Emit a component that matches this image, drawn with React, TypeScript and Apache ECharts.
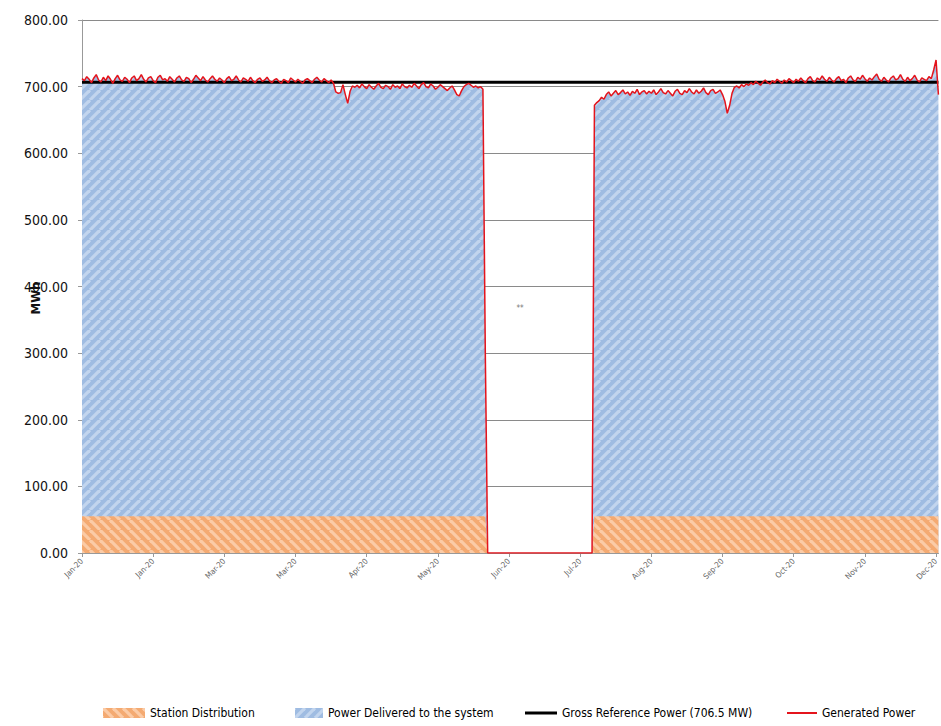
import React, { useEffect, useRef } from 'react';
import * as echarts from 'echarts';

// ---- data ----
const X_TICK_LABELS = ['Jan-20', 'Jan-20', 'Mar-20', 'Mar-20', 'Apr-20', 'May-20', 'Jun-20', 'Jul-20', 'Aug-20', 'Sep-20', 'Oct-20', 'Nov-20', 'Dec-20'];
const X_TICK_STEP_DAYS = 30;
const LAST_DAY = 361;
const Y_MAX = 800;
const Y_STEP = 100;
const GROSS_REFERENCE_MW = 706.5;
const STATION_LOAD = 55;

// Generated power, daily values, days 0..170 (Jan 1 .. Jun 19)
const GEN_JAN_JUN = [
  712, 709, 715, 711, 706, 713, 718, 710, 707, 714, 709, 716, 711, 705, 712, 717, 710, 708, 714, 711,
  706, 713, 716, 709, 712, 718, 711, 707, 713, 715, 709, 706, 714, 717, 710, 712, 708, 715, 711, 707,
  713, 716, 710, 708, 714, 712, 706, 711, 717, 713, 709, 715, 710, 707, 712, 716, 711, 708, 713, 710,
  706, 712, 715, 709, 711, 716, 710, 707, 713, 711, 708, 714, 709, 706, 711, 713, 708, 710, 714, 709,
  706, 710, 712, 708, 705, 711, 709, 706, 713, 710, 707, 711, 708, 705, 710, 712, 709, 706, 711, 714,
  710, 707, 712, 709, 706, 710, 705,
  692, 690, 691, 703, 688, 675, 693, 701,
  699, 702, 698, 704, 700, 697, 703, 699, 696, 701, 705, 699, 697, 702, 700, 696, 703, 699, 701, 697,
  704, 700, 698, 702, 699,
  705, 701, 697, 703, 706, 700, 698, 704, 701, 696, 699, 703, 700, 697, 694, 698, 701, 695, 688, 686,
  694, 700, 703, 705, 702, 699, 701, 698, 700, 696,
  300,
];
// Outage: [day, MW]
const OUTAGE = [[171, 0], [215, 0]];
// Generated power, daily values, days 216..361
const FIRST_DAY_H2 = 216;
const GEN_JUL_DEC = [
  672,
  676, 679, 684, 681, 688, 692, 686, 690, 694, 688, 691, 695, 689, 692, 687, 693, 690, 696, 688, 692,
  694, 689, 693,
  690, 695, 688, 692, 697, 691, 689, 694, 690, 686, 693, 696, 690, 688, 694, 691, 697, 692, 689, 695,
  690, 693, 698, 691, 688, 694, 696, 690, 692, 695,
  688, 678, 660, 672, 690, 699, 701, 698, 703, 700,
  704, 702, 706, 703, 708, 705, 702, 707, 710, 706, 704, 709, 706, 711, 708, 705, 710, 707, 712, 709,
  706, 711, 708, 713, 709, 706, 712, 715, 709, 707, 713, 710, 716, 711, 708, 714, 710, 707, 712, 715,
  709, 711, 706, 713, 716, 710, 708, 714, 711, 717, 712, 708, 713, 710, 715, 719, 711, 708, 714, 710,
  707, 713, 716, 710, 712, 718, 711, 708, 714, 709, 712, 717, 710, 707, 713, 711, 709, 715, 712, 725,
  740, 688,
];

const FONT = "'Liberation Sans Narrow', 'DejaVu Sans Condensed', 'Arial Narrow', 'Liberation Sans', sans-serif";

function hatch(base: string, stripe: string, dir: number, size = 10, lw = 3.2) {
  const c = document.createElement('canvas');
  c.width = size;
  c.height = size;
  const g = c.getContext('2d')!;
  g.fillStyle = base;
  g.fillRect(0, 0, size, size);
  g.strokeStyle = stripe;
  g.lineWidth = lw;
  for (const o of [-size, 0, size]) {
    g.beginPath();
    if (dir === 1) {
      g.moveTo(o, size);
      g.lineTo(o + size, 0);
    } else {
      g.moveTo(o, 0);
      g.lineTo(o + size, size);
    }
    g.stroke();
  }
  return { image: c.toDataURL(), repeat: 'repeat', imageWidth: size, imageHeight: size } as any;
}

export default function App() {
  const ref = useRef<HTMLDivElement>(null);
  useEffect(() => {
    if (!ref.current) return;
    const chart = echarts.init(ref.current, undefined, { renderer: 'svg' });

    const genPts: number[][] = [
      ...GEN_JAN_JUN.map((v, i) => [i, v]),
      ...OUTAGE,
      ...GEN_JUL_DEC.map((v, i) => [FIRST_DAY_H2 + i, v]),
    ];
    // Station distribution (bottom band) and delivered power stacked on it:
    // the top of the delivered band is station + delivered = generated.
    const stationPts = genPts.map(([d, v]) => [d, v > 0 ? STATION_LOAD : 0]);
    const deliveredPts = genPts.map(([d, v]) => [d, v > 0 ? v - STATION_LOAD : 0]);
    const deliveredTopPts = deliveredPts.map(([d, v], i) => [d, v + stationPts[i][1]]);
    const grossPts = [[0, GROSS_REFERENCE_MW], [LAST_DAY, GROSS_REFERENCE_MW]];

    const orange = hatch('#f4aa72', '#fbcba6', -1);
    const blue = hatch('#9fbce2', '#c2d5ee', 1);

    const legendText = { fontFamily: FONT, fontSize: 12, color: '#000' };

    chart.setOption({
      animation: false,
      backgroundColor: '#ffffff',
      grid: { left: 82, right: 1, top: 20, bottom: 173 },
      xAxis: {
        type: 'value',
        min: 0,
        max: LAST_DAY,
        interval: X_TICK_STEP_DAYS,
        axisLine: { show: true, lineStyle: { color: '#999', width: 1 } },
        axisTick: { show: true, length: 4, lineStyle: { color: '#999' } },
        splitLine: { show: false },
        axisLabel: {
          rotate: 45,
          fontSize: 8,
          color: '#666',
          fontFamily: FONT,
          margin: 7,
          showMaxLabel: false,
          formatter: (v: number) => (v % X_TICK_STEP_DAYS === 0 ? X_TICK_LABELS[v / X_TICK_STEP_DAYS] ?? '' : ''),
        },
      },
      yAxis: {
        type: 'value',
        min: 0,
        max: Y_MAX,
        interval: Y_STEP,
        axisLine: { show: true, lineStyle: { color: '#999', width: 1 } },
        axisTick: { show: true, length: 4, lineStyle: { color: '#999' } },
        splitLine: { show: true, lineStyle: { color: '#8a8a8a', width: 1 } },
        axisLabel: {
          fontSize: 14,
          color: '#111',
          fontFamily: FONT,
          margin: 14,
          formatter: (v: number) => v.toFixed(2),
        },
      },
      legend: [
        {
          left: 98, top: 702, itemWidth: 42, itemHeight: 10, textStyle: legendText,
          data: [{ name: 'Station Distribution', icon: 'rect', itemStyle: { color: orange } }],
        },
        {
          left: 290, top: 702, itemWidth: 28, itemHeight: 10, textStyle: legendText,
          data: [{ name: 'Power Delivered to the system', icon: 'rect', itemStyle: { color: blue } }],
        },
        {
          left: 520, top: 702, itemWidth: 32, itemHeight: 10, textStyle: legendText,
          data: [{ name: 'Gross Reference Power (706.5 MW)', icon: 'path://M0,4L32,4L32,7L0,7Z', itemStyle: { color: '#000' } }],
        },
        {
          left: 782, top: 702, itemWidth: 30, itemHeight: 10, textStyle: legendText,
          data: [{ name: 'Generated Power', icon: 'path://M0,4.5L30,4.5L30,6.5L0,6.5Z', itemStyle: { color: '#e4141c' } }],
        },
      ],
      graphic: [
        {
          type: 'text',
          x: 35,
          y: 298,
          rotation: Math.PI / 2,
          style: { text: 'MWh', fontFamily: FONT, fontSize: 13, fontWeight: 'bold', fill: '#111', align: 'center', verticalAlign: 'middle' },
        },
        {
          type: 'text',
          x: 520,
          y: 308,
          style: { text: '**', fontFamily: FONT, fontSize: 8, fill: '#777', align: 'center', verticalAlign: 'middle' },
        },
      ],
      series: [
        {
          name: 'Power Delivered to the system',
          type: 'line',
          symbol: 'none',
          data: deliveredTopPts,
          lineStyle: { width: 0 },
          itemStyle: { color: '#9fbce2' },
          areaStyle: { color: blue, opacity: 1 },
          z: 2,
        },
        {
          name: 'Station Distribution',
          type: 'line',
          symbol: 'none',
          data: stationPts,
          lineStyle: { width: 0 },
          itemStyle: { color: '#f4aa72' },
          areaStyle: { color: orange, opacity: 1 },
          z: 3,
        },
        {
          name: 'Gross Reference Power (706.5 MW)',
          type: 'line',
          symbol: 'none',
          data: grossPts,
          lineStyle: { color: '#000', width: 3 },
          itemStyle: { color: '#000' },
          z: 4,
        },
        {
          name: 'Generated Power',
          type: 'line',
          symbol: 'none',
          data: genPts,
          lineStyle: { color: '#e4141c', width: 1.5 },
          itemStyle: { color: '#e4141c' },
          z: 5,
        },
      ],
    });
    return () => chart.dispose();
  }, []);
  return <div ref={ref} style={{ position: 'absolute', left: 0, top: 0, width: 941, height: 726 }} />;
}
